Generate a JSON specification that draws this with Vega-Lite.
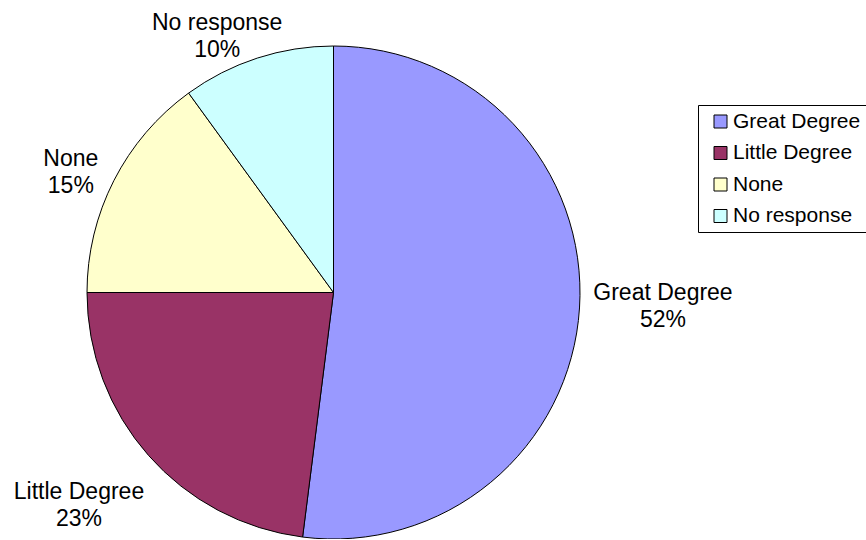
{
  "$schema": "https://vega.github.io/schema/vega-lite/v6.json",
  "width": 667,
  "height": 493,
  "autosize": {"type": "none"},
  "padding": {"left": 0, "top": 46, "right": 199, "bottom": 0},
  "background": "white",
  "data": {"values": [
    {"category": "Great Degree", "value": 52, "idx": 1},
    {"category": "Little Degree", "value": 23, "idx": 2},
    {"category": "None", "value": 15, "idx": 3},
    {"category": "No response", "value": 10, "idx": 4}
  ]},
  "transform": [{"calculate": "datum.category + '\\n' + datum.value + '%'", "as": "label"}],
  "encoding": {
    "theta": {"field": "value", "type": "quantitative", "stack": true},
    "order": {"field": "idx", "type": "quantitative"}
  },
  "layer": [
    {
      "mark": {"type": "arc", "outerRadius": 246.5, "stroke": "black", "strokeWidth": 1},
      "encoding": {
        "color": {
          "field": "category",
          "type": "nominal",
          "scale": {
            "domain": ["Great Degree", "Little Degree", "None", "No response"],
            "range": ["#9999FF", "#993366", "#FFFFCC", "#CCFFFF"]
          },
          "legend": {
            "title": null,
            "orient": "none",
            "legendX": 698,
            "legendY": 59,
            "strokeColor": "black",
            "fillColor": "white",
            "padding": 6,
            "cornerRadius": 0,
            "symbolType": "square",
            "symbolSize": 169,
            "symbolStrokeColor": "black",
            "symbolStrokeWidth": 1,
            "symbolOffset": 6,
            "labelOffset": 2,
            "labelFont": "Liberation Sans",
            "labelFontSize": 21,
            "labelColor": "black",
            "labelLimit": 300,
            "rowPadding": 9.5
          }
        }
      }
    },
    {
      "mark": {"type": "text", "radius": 260, "font": "Liberation Sans", "fontSize": 23, "lineBreak": "\n", "lineHeight": 27, "align": "center", "baseline": "middle", "color": "black", "dx": 70, "dy": -16},
      "encoding": {"text": {"condition": {"test": "datum.category === 'Great Degree'", "field": "label"}, "value": ""}}
    },
    {
      "mark": {"type": "text", "radius": 260, "font": "Liberation Sans", "fontSize": 23, "lineBreak": "\n", "lineHeight": 27, "align": "center", "baseline": "middle", "color": "black", "dx": -59.5, "dy": 28},
      "encoding": {"text": {"condition": {"test": "datum.category === 'Little Degree'", "field": "label"}, "value": ""}}
    },
    {
      "mark": {"type": "text", "radius": 260, "font": "Liberation Sans", "fontSize": 23, "lineBreak": "\n", "lineHeight": 27, "align": "center", "baseline": "middle", "color": "black", "dx": -31, "dy": -15.5},
      "encoding": {"text": {"condition": {"test": "datum.category === 'None'", "field": "label"}, "value": ""}}
    },
    {
      "mark": {"type": "text", "radius": 260, "font": "Liberation Sans", "fontSize": 23, "lineBreak": "\n", "lineHeight": 27, "align": "center", "baseline": "middle", "color": "black", "dx": -36, "dy": -22.5},
      "encoding": {"text": {"condition": {"test": "datum.category === 'No response'", "field": "label"}, "value": ""}}
    }
  ],
  "config": {"view": {"stroke": null}}
}
